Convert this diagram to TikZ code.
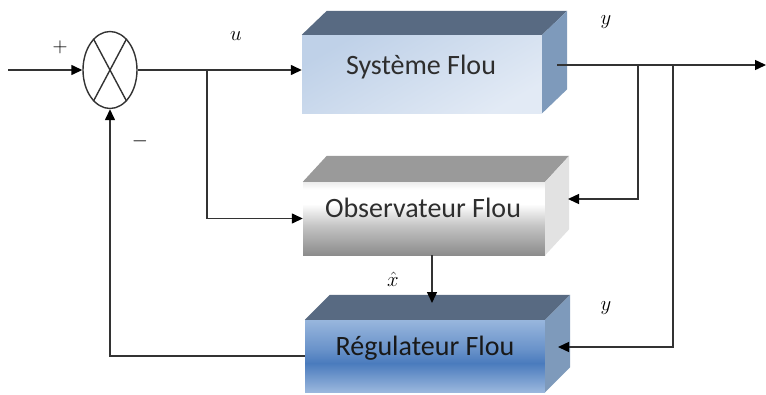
\documentclass[tikz,border=0pt]{standalone}
\usepackage{fontspec}
\newfontfamily\boxfont{Carlito}
\usetikzlibrary{shapes.geometric,arrows.meta,calc}
\definecolor{lineC}{HTML}{333333}
\definecolor{sysA}{HTML}{BFD1E8}
\definecolor{sysB}{HTML}{E2EAF5}
\definecolor{blueTop}{HTML}{586A82}
\definecolor{blueSide}{HTML}{7E9ABB}
\definecolor{obsTopF}{HTML}{9A9A9A}
\definecolor{obsSide}{HTML}{E2E2E2}
\definecolor{obsBot}{HTML}{8C8C8C}
\definecolor{obsMid}{HTML}{C4C4C4}
\definecolor{obsTop}{HTML}{ECECEC}
\definecolor{regTop}{HTML}{98B6DD}
\definecolor{regMid}{HTML}{6A93CA}
\definecolor{regDark}{HTML}{4A7BBD}
\definecolor{regBot}{HTML}{9AB7DD}
\definecolor{txtC}{HTML}{2E2E2E}
\pgfdeclareverticalshading{obsshade}{100bp}{color(0bp)=(obsBot); color(25bp)=(obsBot); color(45bp)=(obsMid); color(60bp)=(white); color(70bp)=(white); color(75bp)=(obsTop); color(100bp)=(obsTop)}
\pgfdeclareverticalshading{regshade}{100bp}{color(0bp)=(regBot); color(25bp)=(regBot); color(45bp)=(regDark); color(55bp)=(regMid); color(75bp)=(regTop); color(100bp)=(regTop)}
\begin{document}
\begin{tikzpicture}[x=1pt,y=-1pt,
  line/.style={draw=lineC, line width=1.4pt},
  arr/.style={line, -{Triangle[length=11pt,width=10pt,color=black]}},
  front/.style={rectangle, inner sep=0pt, draw=none},
  lbl/.style={font=\fontsize{28}{32}\selectfont\boxfont, text=txtC, inner sep=0pt},
  mlbl/.style={font=\fontsize{21}{24}\selectfont, inner sep=0pt}]
\useasboundingbox (0,0) rectangle (766,394);

% summing junction
\node[ellipse, draw=lineC, line width=1.4pt, minimum width=54pt, minimum height=77pt, inner sep=0pt] (sum) at (110,70) {};
\draw[line] (sum.118) -- (sum.-62);
\draw[line] (sum.62) -- (sum.-118);

% Systeme Flou
\node[front, minimum width=240pt, minimum height=78pt, shading=axis, top color=sysA, bottom color=sysB, shading angle=30] (sys) at (422,74) {};
\fill[blueTop] (sys.north west) -- ++(25,-24) -- ($(sys.north east)+(25,-24)$) -- (sys.north east) -- cycle;
\fill[blueSide] (sys.north east) -- ++(25,-24) -- ($(sys.south east)+(25,-24)$) -- (sys.south east) -- cycle;
\node[lbl] (sysT) at (421,67) {Système Flou};

% Observateur Flou
\node[front, minimum width=242pt, minimum height=73pt, shading=obsshade] (obs) at (424,218.5) {};
\fill[obsTopF] (obs.north west) -- ++(24,-26) -- ($(obs.north east)+(24,-26)$) -- (obs.north east) -- cycle;
\fill[obsSide] (obs.north east) -- ++(24,-26) -- ($(obs.south east)+(24,-26)$) -- (obs.south east) -- cycle;
\node[lbl] (obsT) at (423,208) {Observateur Flou};

% Regulateur Flou
\node[front, minimum width=240pt, minimum height=72pt, shading=regshade] (reg) at (425,356) {};
\fill[blueTop] (reg.north west) -- ++(25,-25) -- ($(reg.north east)+(25,-25)$) -- (reg.north east) -- cycle;
\fill[blueSide] (reg.north east) -- ++(25,-25) -- ($(reg.south east)+(25,-25)$) -- (reg.south east) -- cycle;
\node[lbl, text=black!90] (regT) at (425,348) {Régulateur Flou};

% coordinates
\coordinate (in) at (8,70);
\coordinate (bu) at (207,70);
\coordinate (sysout) at (557,65);
\coordinate (out) at (766,65);
\coordinate (b1) at (638,65);
\coordinate (b2) at (673,65);
\coordinate (obsin) at (568,199);
\coordinate (regin) at (558,347);
\coordinate (xtip) at (432,303);

% connectors
\draw[arr] (in) -- (sum.west);
\draw[arr] (sum.east) -- (sum.east -| sys.west);
\draw[arr] (bu) |- (obs.west);
\draw[arr] (sysout) -- (out);
\draw[arr] (b1) |- (obsin);
\draw[arr] (b2) |- (regin);
\draw[arr] (xtip |- obs.south) -- (xtip);
\draw[arr] (reg.west) -| (sum.south);

% labels
\node[mlbl] (lu) at (236,36) {$u$};
\node[mlbl] (ly1) at (606,22) {$y$};
\node[mlbl] (ly2) at (606,308) {$y$};
\node[mlbl] (lx) at (393,279) {$\hat{x}$};
\node[mlbl] (lplus) at (60,47) {$+$};
\node[mlbl] (lminus) at (140,141) {$-$};
\end{tikzpicture}
\end{document}
